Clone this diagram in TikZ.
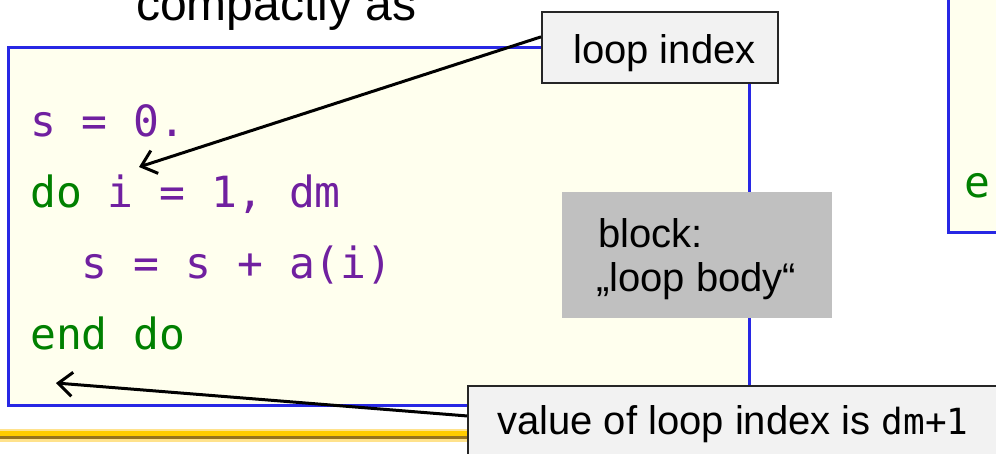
\documentclass[tikz,border=0pt]{standalone}
\usepackage{fontspec}
\setmainfont{Liberation Sans}
\setmonofont{DejaVu Sans Mono}
\usetikzlibrary{arrows.meta}
\definecolor{boxblue}{RGB}{40,40,228}
\definecolor{ivory}{RGB}{255,255,238}
\definecolor{codepurple}{RGB}{112,32,160}
\definecolor{codegreen}{RGB}{0,128,0}
\definecolor{notegray}{RGB}{242,242,242}
\definecolor{blockgray}{RGB}{192,192,192}
\definecolor{barlight}{RGB}{255,226,140}
\definecolor{baryellow}{RGB}{255,204,0}
\definecolor{barbrown}{RGB}{150,115,30}

\begin{document}
\begin{tikzpicture}[
		x=1pt, y=-1pt,
		codebox/.style={draw=boxblue, fill=ivory, line width=3pt, inner sep=0pt},
		note/.style={draw=black!85, fill=notegray, line width=1.5pt, inner sep=0pt},
		blockbox/.style={fill=blockgray, inner sep=0pt},
		txt/.style={font=\fontsize{40}{46}\selectfont, inner sep=0pt, anchor=base west},
		code/.style={font=\fontsize{43}{50}\selectfont\ttfamily, inner sep=0pt, anchor=base west, text=codepurple},
		pointer/.style={line width=3pt, -{Straight Barb[length=14pt,width=24pt]}}
		]
		\useasboundingbox (0,0) rectangle (996,453);
		\clip (0,0) rectangle (996,453);
		
		% slide title, cut off at the top
		\node[txt, font=\fontsize{48}{56}\selectfont] (title) at (136,20) {compactly as};
		
		% gold rule of the slide
		\fill[barlight] (0,429) rectangle (480,442);
		\fill[baryellow] (0,431) rectangle (480,436);
		\fill[barbrown] (0,436) rectangle (480,439);
		
		% the loop
		\node[codebox, anchor=north west, minimum width=741pt, minimum height=358pt] (code) at (7,46) {};
		\node[code] (line1) at (30,136) {s = 0.};
		\node[code] (line2) at (30,207) {\textcolor{codegreen}{do} i = 1, dm};
		\node[code] (line3) at (30,278) {\ \ s = s + a(i)};
		\node[code, text=codegreen] (line4) at (30,349) {end do};
		
		% next box, only its corner shows
		\node[codebox, anchor=south west, minimum width=80pt, minimum height=260pt] (next) at (947,234) {};
		\node[code, text=codegreen] (nextline) at (964,197) {e};
		
		\node[blockbox, anchor=north west, minimum width=270pt, minimum height=126pt] (body) at (562,192) {};
		\node[txt] (bodytop) at (598,247) {block:};
		\node[txt] (bodybot) at (596,291) {„loop body“};
		
		\node[note, anchor=north west, minimum width=236pt, minimum height=71pt] (index) at (541,11) {};
		\node[txt] (indextext) at (573,63) {loop index};
		
		\node[note, anchor=north west, minimum width=560pt, minimum height=80pt] (after) at (467,385) {};
		\node[txt] (aftertext) at (497,434) {value of loop index is {\fontsize{36}{40}\selectfont\ttfamily dm+1}};
		
		\coordinate (itip) at (139,167);
		\coordinate (endtip) at (56,383);
		\draw[pointer] (index.175) -- (itip);
		\draw[pointer] (after.178) -- (endtip);
		
	\end{tikzpicture}
\end{document}
